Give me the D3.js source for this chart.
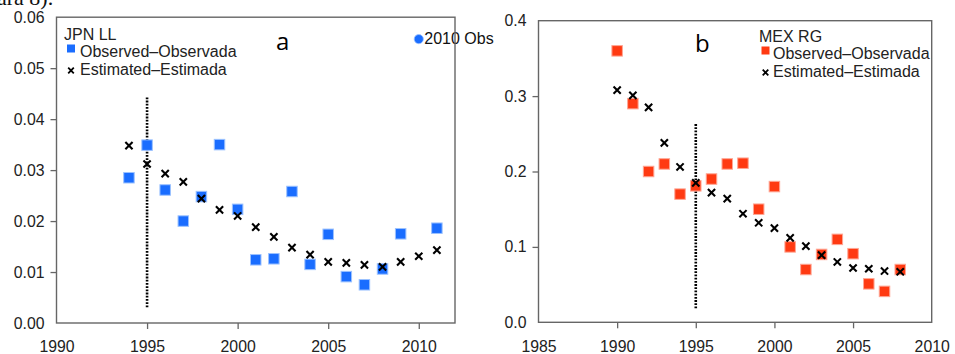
<!DOCTYPE html>
<html><head><meta charset="utf-8">
<script src="https://cdn.jsdelivr.net/npm/d3@7/dist/d3.min.js"></script>
<style>
html,body{margin:0;padding:0;background:#fff;}
svg{display:block;}
</style></head>
<body><svg id="c" width="955" height="354"></svg>
<script>
// ---------- DATA ----------
// Panel a: JPN LL
const yearsA_obs = [1994,1995,1996,1997,1998,1999,2000,2001,2002,2003,2004,2005,2006,2007,2008,2009,2011];
const obsA = [0.0285,0.0349,0.0261,0.0200,0.0248,0.0350,0.0223,0.0124,0.0126,0.0258,0.0115,0.0174,0.0091,0.0075,0.0106,0.0175,0.0186];
const yearsA_est = [1994,1995,1996,1997,1998,1999,2000,2001,2002,2003,2004,2005,2006,2007,2008,2009,2010,2011];
const estA = [0.0348,0.0312,0.0293,0.0277,0.0244,0.0222,0.0210,0.0188,0.0169,0.0148,0.0134,0.0120,0.0118,0.0114,0.0110,0.0120,0.0131,0.0143];
const obs2010A = [{year:2010, value:0.0557}];
const refLineA = {year:1995, from:0.0031, to:0.0444};
const xTicksA = [1990,1995,2000,2005,2010];
const yTicksA = [0.00,0.01,0.02,0.03,0.04,0.05,0.06];

// Panel b: MEX RG
const yearsB = [1990,1991,1992,1993,1994,1995,1996,1997,1998,1999,2000,2001,2002,2003,2004,2005,2006,2007,2008];
const obsB = [0.360,0.290,0.200,0.210,0.170,0.181,0.190,0.210,0.211,0.150,0.180,0.100,0.070,0.090,0.110,0.091,0.051,0.041,0.070];
const estB = [0.308,0.301,0.285,0.238,0.206,0.185,0.172,0.164,0.144,0.132,0.125,0.112,0.101,0.089,0.080,0.072,0.071,0.068,0.067];
const refLineB = {year:1995, from:0.0186, to:0.263};
const xTicksB = [1985,1990,1995,2000,2005,2010];
const yTicksB = [0.0,0.1,0.2,0.3,0.4];

const svg = d3.select("#c");
const FONT = "'Liberation Sans', Arial, sans-serif";

// text clipped at the top edge, as in the source page
svg.append("text").attr("x",-3).attr("y",5)
  .attr("font-family","'Liberation Serif','Times New Roman',serif")
  .attr("font-size",22).attr("fill","#111").text("ara 8).");

function panel(cfg){
  const x = d3.scaleLinear().domain(cfg.xDomain).range(cfg.xRange);
  const y = d3.scaleLinear().domain(cfg.yDomain).range(cfg.yRange);
  const g = svg.append("g");

  const ax = d3.axisBottom(x).tickValues(cfg.xTicks).tickSize(6).tickPadding(12)
    .tickFormat(d3.format("d"));
  const gx = g.append("g").attr("transform",`translate(0,${cfg.yRange[0]})`).call(ax);
  const ay = d3.axisLeft(y).tickValues(cfg.yTicks).tickSize(6).tickPadding(6)
    .tickFormat(d3.format(cfg.yFmt));
  const gy = g.append("g").attr("transform",`translate(${cfg.xRange[0]},0)`).call(ay);
  [gx,gy].forEach(a=>{
    a.select(".domain").remove();
    a.selectAll(".tick line").attr("stroke","#666").attr("stroke-width",1.3);
    a.selectAll(".tick text").attr("font-family",FONT).attr("font-size",15.8).attr("fill","#222");
  });
  gx.selectAll(".tick").filter(d=>d===cfg.xDomain[0]||d===cfg.xDomain[1]).select("line").remove();
  gy.selectAll(".tick").filter(d=>d===cfg.yDomain[0]||d===cfg.yDomain[1]).select("line").remove();
  gx.selectAll(".tick text").attr("dy","0.71em");

  // reference dotted line
  g.append("line")
    .attr("x1",x(cfg.ref.year)).attr("x2",x(cfg.ref.year))
    .attr("y1",y(cfg.ref.from)).attr("y2",y(cfg.ref.to))
    .attr("stroke","#000").attr("stroke-width",2.6).attr("stroke-dasharray","1.8,1.4");

  // observed squares
  const s = 10.5;
  g.selectAll(null).data(cfg.obsYears.map((d,i)=>({year:d,value:cfg.obs[i]}))).join("rect")
    .attr("x",d=>x(d.year)-s/2).attr("y",d=>y(d.value)-s/2)
    .attr("width",s).attr("height",s)
    .attr("fill",cfg.color).attr("stroke",cfg.halo).attr("stroke-width",1);

  // estimated crosses
  const h = 3.6;
  g.selectAll(null).data(cfg.estYears.map((d,i)=>({year:d,value:cfg.est[i]}))).join("path")
    .attr("d",d=>{const cx=x(d.year), cy=y(d.value);
      return `M${cx-h},${cy-h}L${cx+h},${cy+h}M${cx-h},${cy+h}L${cx+h},${cy-h}`;})
    .attr("stroke","#000").attr("stroke-width",2.1).attr("fill","none");

  if(cfg.extra){
    g.selectAll(null).data(cfg.extra).join("circle")
      .attr("cx",d=>x(d.year)).attr("cy",d=>y(d.value)).attr("r",4.6)
      .attr("fill",cfg.color).attr("stroke",cfg.halo).attr("stroke-width",0.8);
    g.selectAll(null).data(cfg.extra).join("text")
      .attr("x",d=>x(d.year)+5.5).attr("y",d=>y(d.value)+5)
      .attr("font-family",FONT).attr("font-size",16).attr("fill","#111").text("2010 Obs");
  }

  // box
  g.append("rect")
    .attr("x",cfg.xRange[0]).attr("y",cfg.yRange[1])
    .attr("width",cfg.xRange[1]-cfg.xRange[0]).attr("height",cfg.yRange[0]-cfg.yRange[1])
    .attr("fill","none").attr("stroke","#666").attr("stroke-width",1.4);

  // legend
  const L = cfg.legend;
  g.append("text").attr("x",L.x).attr("y",L.y).attr("font-family",FONT)
    .attr("font-size",16).attr("fill","#222").text(cfg.title);
  const ls = 8;
  g.append("rect").attr("x",L.mx-ls/2).attr("y",L.y+13.5-ls/2-4.5).attr("width",ls).attr("height",ls)
    .attr("fill",cfg.color);
  g.append("text").attr("x",L.tx).attr("y",L.y+17.5).attr("font-family",FONT)
    .attr("font-size",16).attr("fill","#222").text("Observed\u2013Observada");
  const lh = 2.8, lcx = L.mx, lcy = L.y+31;
  g.append("path").attr("d",`M${lcx-lh},${lcy-lh}L${lcx+lh},${lcy+lh}M${lcx-lh},${lcy+lh}L${lcx+lh},${lcy-lh}`)
    .attr("stroke","#000").attr("stroke-width",1.8);
  g.append("text").attr("x",L.tx).attr("y",L.y+35.5).attr("font-family",FONT)
    .attr("font-size",16).attr("fill","#222").text("Estimated\u2013Estimada");

  // panel letter
  g.append("text").attr("x",cfg.letter.x).attr("y",cfg.letter.y)
    .attr("font-family","'Open Sans',sans-serif").attr("font-size",24).attr("fill","#000")
    .text(cfg.letter.t);
}

panel({
  xDomain:[1990,2012], xRange:[56.5,455], yDomain:[0,0.06], yRange:[323,17.2],
  xTicks:xTicksA, yTicks:yTicksA, yFmt:".2f",
  obsYears:yearsA_obs, obs:obsA, estYears:yearsA_est, est:estA,
  extra:obs2010A, ref:refLineA, color:"#1a6dff", halo:"#9cc2ff",
  title:"JPN LL", legend:{x:64, y:39.5, mx:71, tx:80},
  letter:{x:276, y:50, t:"a"}
});
panel({
  xDomain:[1985,2010], xRange:[538.5,931.7], yDomain:[0,0.4], yRange:[322.3,20.7],
  xTicks:xTicksB, yTicks:yTicksB, yFmt:".1f",
  obsYears:yearsB, obs:obsB, estYears:yearsB, est:estB,
  ref:refLineB, color:"#ff3a12", halo:"#ffa694",
  title:"MEX RG", legend:{x:759, y:41.5, mx:765.5, tx:773},
  letter:{x:695, y:52, t:"b"}
});
</script></body></html>
